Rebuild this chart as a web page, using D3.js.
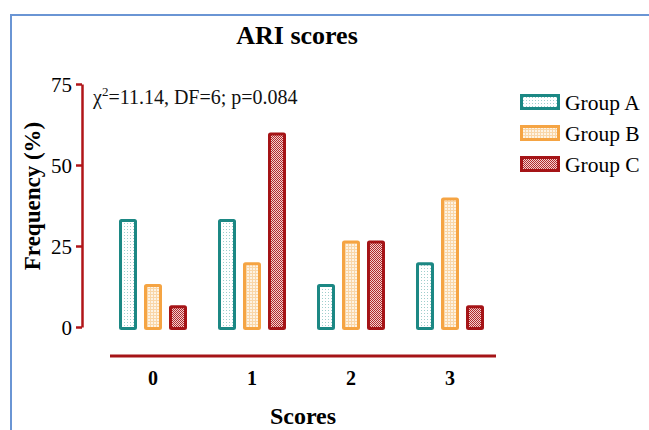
<!DOCTYPE html>
<html><head><meta charset="utf-8">
<script src="https://cdn.jsdelivr.net/npm/d3@7"></script>
<style>html,body{margin:0;padding:0;background:#fff;}svg{display:block;font-family:"Liberation Serif","Times New Roman",serif;}</style>
</head><body>
<script>
const categories = ["0","1","2","3"];
const groups = ["Group A","Group B","Group C"];
const groupA = [33.3, 33.3, 13.3, 20.0];
const groupB = [13.3, 20.0, 26.7, 40.0];
const groupC = [6.7, 60.0, 26.7, 6.7];
const yTicks = [0, 25, 50, 75];
const title = "ARI scores";
const xTitle = "Scores";
const yTitle = "Frequency (%)";

const series = [groupA, groupB, groupC];
const strokes = ["#1c8884", "#f5a443", "#a51417"];

const W = 649, H = 430;
const svg = d3.select("body").append("svg").attr("width", W).attr("height", H);
const defs = svg.append("defs");

// Pattern A: teal dots
const pA = defs.append("pattern").attr("id","patA").attr("patternUnits","userSpaceOnUse").attr("width",3).attr("height",3);
pA.append("rect").attr("width",3).attr("height",3).attr("fill","#fff");
pA.append("rect").attr("x",1).attr("y",1).attr("width",1).attr("height",1).attr("fill","#9fcfcd");
// Pattern B: light orange grid
const pB = defs.append("pattern").attr("id","patB").attr("patternUnits","userSpaceOnUse").attr("width",3).attr("height",3);
pB.append("rect").attr("width",3).attr("height",3).attr("fill","#fdf3e4");
pB.append("rect").attr("x",0).attr("y",0).attr("width",3).attr("height",1).attr("fill","#f9d6a8");
pB.append("rect").attr("x",0).attr("y",0).attr("width",1).attr("height",3).attr("fill","#f9d6a8");
// Pattern C: checker dark red
const pC = defs.append("pattern").attr("id","patC").attr("patternUnits","userSpaceOnUse").attr("width",2).attr("height",2);
pC.append("rect").attr("width",2).attr("height",2).attr("fill","#f3d0d0");
pC.append("rect").attr("x",0).attr("y",0).attr("width",1).attr("height",1).attr("fill","#b02a2c");
pC.append("rect").attr("x",1).attr("y",1).attr("width",1).attr("height",1).attr("fill","#b02a2c");
const fills = ["url(#patA)","url(#patB)","url(#patC)"];

// Blue outer frame
svg.append("path").attr("d","M11,430 V15 H649").attr("fill","none").attr("stroke","#6a95d4").attr("stroke-width",2);

// Scales
const x = d3.scaleBand().domain(categories).range([103.5, 499.5]).padding(0);
const xSub = d3.scaleBand().domain(groups).range([-37.5, 37.5]).paddingInner(0.28).paddingOuter(0.14);
const y = d3.scaleLinear().domain([0,75]).range([327, 84]);

// Title
svg.append("text").attr("x",297).attr("y",44).attr("text-anchor","middle")
  .attr("font-size",26).attr("font-weight","bold").attr("fill","#000").text(title);

// Y axis
const yAxis = d3.axisLeft(y).tickValues(yTicks).tickSize(6).tickPadding(4).tickSizeOuter(0);
const gy = svg.append("g").attr("transform","translate(82,0)").call(yAxis);
gy.select(".domain").attr("stroke","#b01518").attr("stroke-width",2.5);
gy.selectAll(".tick line").attr("stroke","#b01518").attr("stroke-width",2.5);
gy.selectAll(".tick text").attr("font-size",21).attr("fill","#000").attr("font-family","Liberation Serif, serif").attr("dy","0.36em");

// X axis
const xAxis = d3.axisBottom(x).tickSize(0).tickPadding(15).tickSizeOuter(0);
const gx = svg.append("g").attr("transform","translate(0,356)").call(xAxis);
gx.select(".domain").attr("stroke","#a51417").attr("stroke-width",3).attr("d","M110,0H496");
gx.selectAll(".tick text").attr("font-size",20).attr("font-weight","bold").attr("fill","#000").attr("font-family","Liberation Serif, serif");

// Axis titles
svg.append("text").attr("x",303).attr("y",424).attr("text-anchor","middle")
  .attr("font-size",24).attr("font-weight","bold").attr("fill","#000").text(xTitle);
svg.append("text").attr("transform","translate(40,196) rotate(-90)").attr("text-anchor","middle")
  .attr("font-size",23).attr("font-weight","bold").attr("fill","#000").text(yTitle);

// Annotation
const ann = svg.append("text").attr("x",93).attr("y",104).attr("font-size",20).attr("fill","#111");
ann.append("tspan").text("\u03C7");
ann.append("tspan").attr("dy",-8).attr("font-size",13).text("2");
ann.append("tspan").attr("dy",8).text("=11.14, DF=6; p=0.084");

// Bars
const sw = 3;
series.forEach((vals, gi) => {
  svg.append("g").selectAll("rect").data(categories.map((c,i)=>({c, v: vals[i]})))
    .join("rect")
    .attr("x", d => x(d.c) + x.bandwidth()/2 + xSub(groups[gi]) + sw/2)
    .attr("y", d => y(d.v) + sw/2)
    .attr("width", xSub.bandwidth() - sw)
    .attr("height", d => y(0) - y(d.v))
    .attr("fill", fills[gi])
    .attr("stroke", strokes[gi])
    .attr("stroke-width", sw)
    .attr("rx", 1);
});

// Legend
const legY = [94, 125, 156];
const lg = svg.append("g");
groups.forEach((g, i) => {
  lg.append("rect").attr("x",521.5).attr("y",legY[i]+1.5).attr("width",37).attr("height",13)
    .attr("fill",fills[i]).attr("stroke",strokes[i]).attr("stroke-width",sw);
  lg.append("text").attr("x",565).attr("y",legY[i]+16).attr("font-size",21.5).attr("fill","#000").text(g);
});
</script>
</body></html>
